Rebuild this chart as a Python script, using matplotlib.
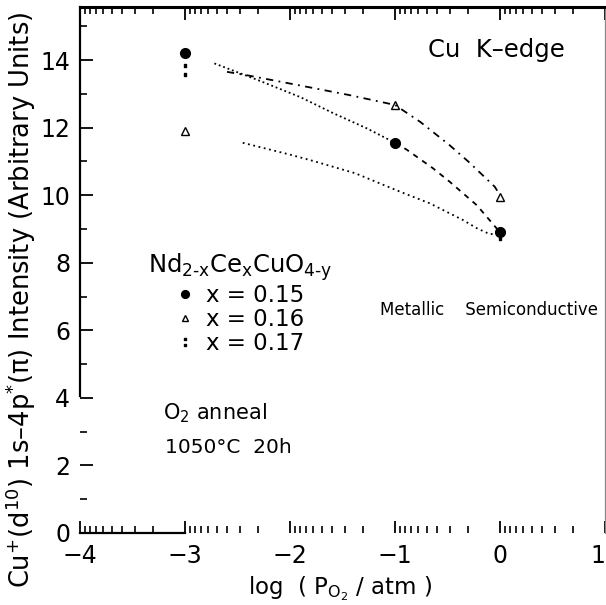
import matplotlib.pyplot as plt
import numpy as np

plt.rcParams["font.family"] = ["DejaVu Sans"]
plt.rcParams["mathtext.fontset"] = "dejavusans"

# measured points, x = log(Po2 / atm)
LOG_P = [-3, -1, 0]
INT_X15 = [14.2, 11.55, 8.9]
INT_X16 = [11.9, 12.67, 9.95]
LOG_P_X17 = [-3, 0]
INT_X17 = [13.7, 8.85]

# hand-drawn guide curves
GUIDE15A_X = [-2.72, -2.3, -1.9, -1.59, -1.27, -1.0]
GUIDE15A_Y = [13.9, 13.4, 12.9, 12.43, 11.98, 11.55]
GUIDE15B_X = [-1.0, -0.89, -0.64, -0.48, -0.22, 0.0]
GUIDE15B_Y = [11.55, 11.35, 10.8, 10.4, 9.7, 8.9]
GUIDE16_X = [-2.6, -2.41, -2.16, -1.76, -1.43, -1.0, -0.76, -0.48, -0.30, -0.05, 0.0]
GUIDE16_Y = [13.65, 13.55, 13.4, 13.16, 12.96, 12.67, 12.17, 11.48, 10.99, 10.25, 10.0]
GUIDE17_X = [-2.45, -2.0, -1.81, -1.38, -0.95, -0.67, -0.35, -0.22, -0.1, 0.0]
GUIDE17_Y = [11.55, 11.2, 11.04, 10.65, 10.1, 9.76, 9.26, 9.02, 8.85, 8.85]

X_TICKS = [-4, -3, -2, -1, 0, 1]
X_LABELS = ["\u22124", "\u22123", "\u22122", "\u22121", "0", "1"]
Y_TICKS = [0, 2, 4, 6, 8, 10, 12, 14]
Y_MINOR = [1, 3, 5, 7, 9, 11, 13, 15]

fig = plt.figure(figsize=(6.06, 6.05), dpi=100)
ax = fig.add_axes([80 / 606, 72 / 605, 525 / 606, 526 / 605])

# guide lines
ax.plot(GUIDE15A_X, GUIDE15A_Y, color="black", lw=1.3, ls=(0, (1, 1.6)))
ax.plot(GUIDE15B_X, GUIDE15B_Y, color="black", lw=1.3, ls=(0, (3, 3)))
ax.plot(GUIDE16_X, GUIDE16_Y, color="black", lw=1.3, ls=(0, (4, 3, 1, 3)))
ax.plot(GUIDE17_X, GUIDE17_Y, color="black", lw=1.3, ls=(0, (1, 2)))

# data markers
ax.plot(LOG_P, INT_X15, "o", color="black", ms=7, ls="none", label="x = 0.15")
ax.plot(LOG_P, INT_X16, "^", color="black", ms=6, mew=1.0, fillstyle="none",
        ls="none", label="x = 0.16")
ax.plot(LOG_P_X17, INT_X17, marker="$:$", color="black", ms=8, ls="none",
        label="x = 0.17")

ax.set_xlim(-4, 1)
ax.set_ylim(0, 15.57)
ax.set_xticks(X_TICKS)
ax.set_xticklabels(X_LABELS)
ax.get_xticklabels()[-1].set_horizontalalignment("right")
minor_x = [m - np.log10(k) for m in range(-3, 2) for k in range(2, 10)]
ax.set_xticks([v for v in minor_x if -4 < v < 1], minor=True)
ax.set_yticks(Y_TICKS)
ax.set_yticks(Y_MINOR, minor=True)

ax.tick_params(axis="both", which="major", direction="in", length=9, width=1.3,
               labelsize=17, pad=7)
ax.tick_params(axis="both", which="minor", direction="in", length=5, width=1.2)
ax.tick_params(axis="x", which="both", top=True)
ax.tick_params(axis="x", which="major", pad=8)
ax.tick_params(axis="y", which="both", right=False)

# scan dropouts of the frame
ax.spines["top"].set_linewidth(2.2)
ax.spines["left"].set_linewidth(1.6)
ax.spines["left"].set_bounds(4.05, 15.57)
ax.spines["bottom"].set_linewidth(1.6)
ax.spines["bottom"].set_bounds(-4, -3)
ax.spines["right"].set_linewidth(0.9)
ax.spines["right"].set_color("#888888")

ax.set_ylabel(r"Cu$^{+}$(d$^{10}$) 1s–4p$^{*}$(π) Intensity (Arbitrary Units)",
              fontsize=18.5)
ax.yaxis.set_label_coords(-0.08, 0.443)
ax.set_xlabel(r"log  ( P$_{\mathrm{O_2}}$ / atm )", fontsize=16.5)
ax.xaxis.set_label_coords(0.495, -0.078)

ax.text(-0.69, 14.3, "Cu  K–edge", fontsize=17.5, va="center")
ax.text(-1.14, 6.6, "Metallic    Semiconductive", fontsize=12, va="center")
ax.text(-3.21, 3.55, r"O$_2$ anneal", fontsize=15, va="center")
ax.text(-3.19, 2.54, "1050°C  20h", fontsize=14.5, va="center")

leg = ax.legend(title=r"Nd$_{2\text{-x}}$Ce$_{\text{x}}$CuO$_{4\text{-y}}$",
                loc="upper center", bbox_to_anchor=(0.305, 0.553), frameon=False,
                fontsize=16.5, title_fontsize=17.5, handlelength=0.8,
                handletextpad=0.5, labelspacing=0.05, markerscale=0.8,
                borderaxespad=0)

fig.savefig("out.png", dpi=100)
